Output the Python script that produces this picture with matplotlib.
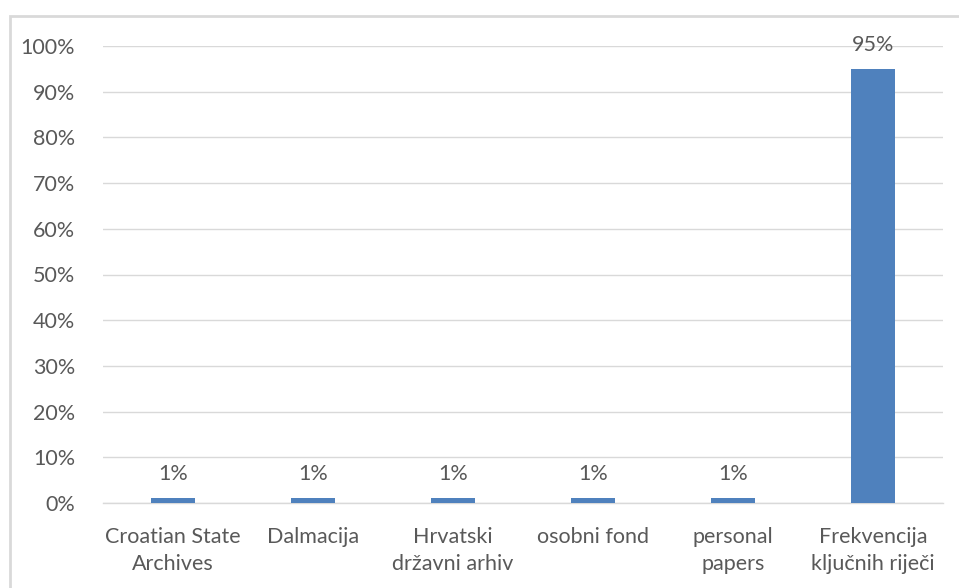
import matplotlib.pyplot as plt
from matplotlib.ticker import PercentFormatter
from matplotlib.patches import Rectangle

categories = ['Croatian State\nArchives', 'Dalmacija', 'Hrvatski\ndržavni arhiv',
              'osobni fond', 'personal\npapers', 'Frekvencija\nključnih riječi']
values = [0.01, 0.01, 0.01, 0.01, 0.01, 0.95]
value_labels = ['1%', '1%', '1%', '1%', '1%', '95%']
yticks = [0, 0.1, 0.2, 0.3, 0.4, 0.5, 0.6, 0.7, 0.8, 0.9, 1.0]

text_color = '#595959'
bar_color = '#4F81BD'
grid_color = '#D9D9D9'

plt.rcParams['font.family'] = ['Lato', 'DejaVu Sans']

fig = plt.figure(figsize=(9.59, 5.88), dpi=100)
# outer chart border (only top and left visible in the crop)
fig.patches.append(Rectangle((10 / 959, -0.1), 1.2, 1 - 16 / 588 + 0.1,
                             transform=fig.transFigure, fill=False,
                             edgecolor='#D9D9D9', linewidth=2))

ax = fig.add_axes([103 / 959, 1 - 503 / 588, 840 / 959, 457 / 588])
x = range(len(categories))
ax.bar(x, values, width=0.315, color=bar_color, zorder=3)

for xi, v, lab in zip(x, values, value_labels):
    ax.annotate(lab, (xi, v), xytext=(0, 17.5), textcoords='offset points',
                ha='center', va='center', fontsize=15.5, color=text_color)

ax.set_xlim(-0.5, len(categories) - 0.5)
ax.set_ylim(0, 1.0)
ax.set_yticks(yticks)
ax.yaxis.set_major_formatter(PercentFormatter(1.0, decimals=0))
ax.set_xticks(list(x))
ax.set_xticklabels(categories, linespacing=1.45)
ax.tick_params(axis='both', length=0, labelsize=15.5, colors=text_color)
ax.tick_params(axis='y', pad=20)
ax.tick_params(axis='x', pad=17)
ax.grid(axis='y', color=grid_color, linewidth=1, zorder=0)
ax.set_axisbelow(True)
for side in ['top', 'right', 'left']:
    ax.spines[side].set_visible(False)
ax.spines['bottom'].set_color(grid_color)
ax.spines['bottom'].set_linewidth(1)

fig.savefig('out.png', dpi=100)
